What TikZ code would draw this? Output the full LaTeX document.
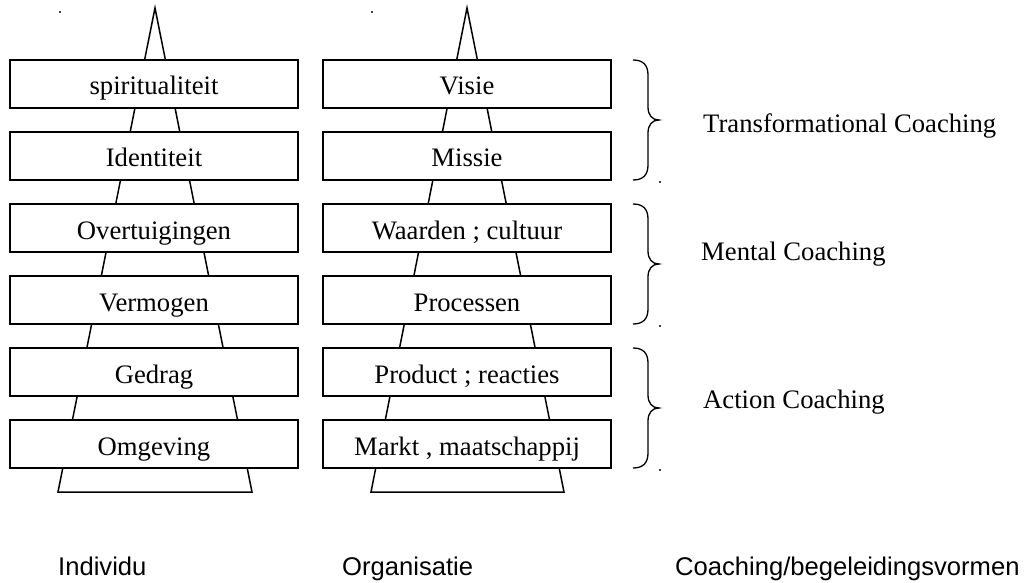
\documentclass[tikz,border=0pt]{standalone}
\usepackage{fontspec}
\setmainfont{Liberation Serif}
\newfontfamily\labelsans{Liberation Sans}
\begin{document}
\begin{tikzpicture}[x=1pt,y=-1pt,
  level/.style={draw, line width=1.5pt, fill=white, minimum width=288pt,
    minimum height=48pt, inner sep=0pt, text height=24pt, text depth=2pt,
    font=\fontsize{26.67}{32}\selectfont},
  pyr/.style={line width=1.5pt, line join=miter},
  curly/.style={line width=1.3pt},
  group/.style={anchor=base west, inner sep=0pt, font=\fontsize{26.67}{32}\selectfont},
  column/.style={anchor=base west, inner sep=0pt, font=\labelsans\fontsize{25.6}{30}\selectfont},
  dot/.style={circle, fill=black, inner sep=0pt, minimum size=2.4pt}]
\useasboundingbox (0,0) rectangle (1028,583);

% pyramid outlines behind the level boxes
\coordinate (apexL) at (155,8);
\coordinate (baseLl) at (58,492);
\coordinate (baseLr) at (252,492);
\coordinate (apexR) at (467,8);
\coordinate (baseRl) at (371,492);
\coordinate (baseRr) at (564,492);
\draw[pyr] (baseLl) -- (apexL) -- (baseLr) -- cycle;
\draw[pyr] (baseRl) -- (apexR) -- (baseRr) -- cycle;

% levels of the individual
\node[level] (i1) at (154,84)  {spiritualiteit};
\node[level] (i2) at (154,156) {Identiteit};
\node[level] (i3) at (154,228) {Overtuigingen};
\node[level] (i4) at (154,300) {Vermogen};
\node[level] (i5) at (154,372) {Gedrag};
\node[level] (i6) at (154,444) {Omgeving};

% levels of the organisation
\node[level] (o1) at (467,84)  {Visie};
\node[level] (o2) at (467,156) {Missie};
\node[level] (o3) at (467,228) {Waarden ; cultuur};
\node[level] (o4) at (467,300) {Processen};
\node[level] (o5) at (467,372) {Product ; reacties};
\node[level] (o6) at (467,444) {Markt , maatschappij};

% curly braces grouping two levels each
\foreach \t in {60,204,348}
  \draw[curly] (633,\t) .. controls (643,\t) and (648,\t+5) .. (648,\t+15)
    -- (648,\t+47) .. controls (648,\t+55) and (652,\t+60) .. (659,\t+60)
    .. controls (652,\t+60) and (648,\t+65) .. (648,\t+73)
    -- (648,\t+105) .. controls (648,\t+115) and (643,\t+120) .. (633,\t+120);

% small dots
\node[dot] (dL) at (60,12) {};
\node[dot] (dR) at (372,12) {};
\node[dot] (dB1) at (660,182) {};
\node[dot] (dB2) at (660,326) {};
\node[dot] (dB3) at (660,470) {};

% coaching forms
\node[group] (g1) at (703,132) {Transformational Coaching};
\node[group] (g2) at (701,260) {Mental Coaching};
\node[group] (g3) at (703,408) {Action Coaching};

% column captions
\node[column] (c1) at (58,575)  {Individu};
\node[column] (c2) at (342,575) {Organisatie};
\node[column] (c3) at (675,575) {Coaching/begeleidingsvormen};
\end{tikzpicture}
\end{document}
